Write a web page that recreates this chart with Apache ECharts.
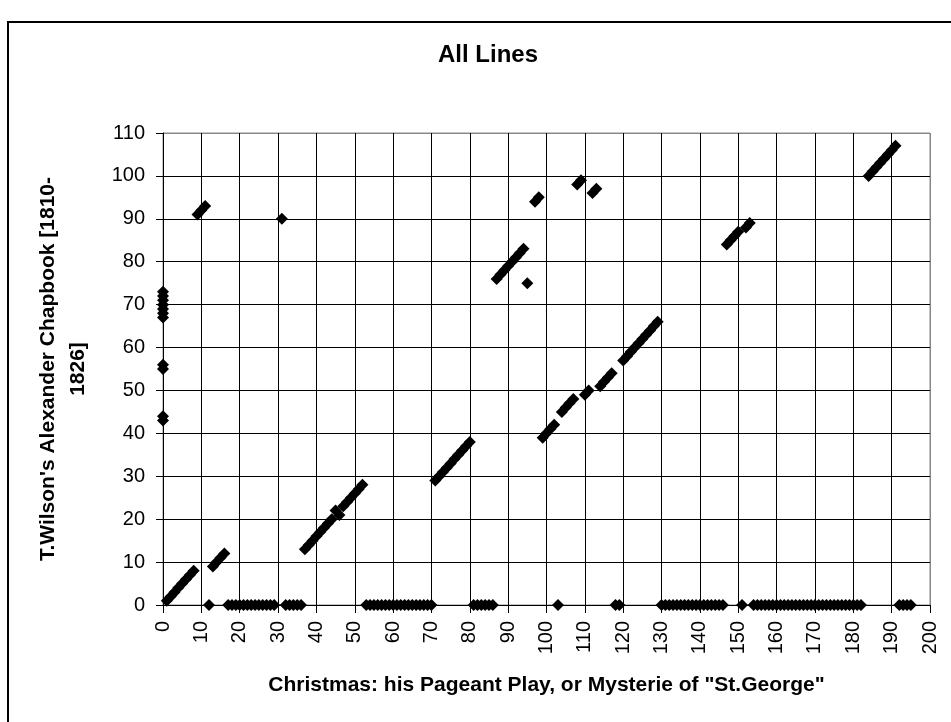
<!DOCTYPE html>
<html>
<head>
<meta charset="utf-8">
<script src="https://cdn.jsdelivr.net/npm/echarts@6/dist/echarts.min.js"></script>
<style>
  html, body { margin: 0; padding: 0; background: #fff; }
  #chart { width: 951px; height: 722px; }
</style>
</head>
<body>
<div id="chart"></div>
<script>
// line number in "Christmas" (x) and matching line in the Wilson chapbook (y)
var matchX = [0, 0, 0, 0, 0, 0, 0, 0, 0, 0, 0,
  1, 2, 3, 4, 5, 6, 7, 8, 9, 10, 11,
  13, 14, 15, 16, 31,
  37, 38, 39, 40, 41, 42, 43, 44, 45, 46, 47, 48, 49, 50, 51, 52,
  71, 72, 73, 74, 75, 76, 77, 78, 79, 80,
  87, 88, 89, 90, 91, 92, 93, 94, 95, 97, 98,
  99, 100, 101, 102, 104, 105, 106, 107, 108, 109, 110, 111, 112, 113,
  114, 115, 116, 117,
  120, 121, 122, 123, 124, 125, 126, 127, 128, 129,
  147, 148, 149, 150, 152, 153,
  184, 185, 186, 187, 188, 189, 190, 191]
var matchY = [73, 72, 71, 70, 69, 68, 67, 56, 55, 44, 43,
  1, 2, 3, 4, 5, 6, 7, 8, 91, 92, 93,
  9, 10, 11, 12, 90,
  13, 14, 15, 16, 17, 18, 19, 20, 22, 21, 23, 24, 25, 26, 27, 28,
  29, 30, 31, 32, 33, 34, 35, 36, 37, 38,
  76, 77, 78, 79, 80, 81, 82, 83, 75, 94, 95,
  39, 40, 41, 42, 45, 46, 47, 48, 98, 99, 49, 50, 96, 97,
  51, 52, 53, 54,
  57, 58, 59, 60, 61, 62, 63, 64, 65, 66,
  84, 85, 86, 87, 88, 89,
  100, 101, 102, 103, 104, 105, 106, 107]
// lines with no match (plotted at 0)
var unmatchedX = [12,
  17, 18, 19, 20, 21, 22, 23, 24, 25, 26, 27, 28, 29,
  32, 33, 34, 35, 36,
  53, 54, 55, 56, 57, 58, 59, 60, 61, 62, 63, 64, 65, 66, 67, 68, 69, 70,
  81, 82, 83, 84, 85, 86,
  103, 118, 119,
  130, 131, 132, 133, 134, 135, 136, 137, 138, 139, 140, 141, 142, 143, 144, 145, 146,
  151,
  154, 155, 156, 157, 158, 159, 160, 161, 162, 163, 164, 165, 166, 167, 168, 169, 170,
  171, 172, 173, 174, 175, 176, 177, 178, 179, 180, 181, 182,
  192, 193, 194, 195]

var points = []
for (var i = 0; i < matchX.length; i++) {
  points.push([matchX[i], matchY[i]])
}
for (var j = 0; j < unmatchedX.length; j++) {
  points.push([unmatchedX[j], 0])
}

var font = 'Liberation Sans, Arial, sans-serif'
var xSplit = []
for (var k = 0; k < 21; k++) xSplit.push(k === 20 ? '#888' : '#000')
var ySplit = []
for (var m = 0; m < 12; m++) ySplit.push(m === 11 ? '#888' : '#000')

var chart = echarts.init(document.getElementById('chart'))
var option = {
  animation: false,
  backgroundColor: '#fff',
  title: {
    text: 'All Lines',
    left: 433,
    top: 38,
    textStyle: { fontFamily: font, fontSize: 24, fontWeight: 'bold', color: '#000' }
  },
  graphic: [{
    type: 'rect',
    shape: { x: 8, y: 22, width: 1000, height: 1000 },
    style: { fill: 'none', stroke: '#000', lineWidth: 2 }
  }],
  grid: {
    left: 163,
    right: 21,
    top: 133,
    bottom: 117,
    show: true,
    borderColor: '#888',
    borderWidth: 1
  },
  xAxis: {
    type: 'value',
    min: 0,
    max: 200,
    interval: 10,
    name: 'Christmas: his Pageant Play, or Mysterie of "St.George"',
    nameLocation: 'middle',
    nameGap: 70,
    nameTextStyle: { fontFamily: font, fontSize: 21, fontWeight: 'bold', color: '#000' },
    axisLine: { onZero: false, lineStyle: { color: '#000', width: 1 } },
    axisTick: { show: true, length: 8, lineStyle: { color: '#000' } },
    axisLabel: { rotate: 90, margin: 16, fontFamily: font, fontSize: 20, color: '#000' },
    splitLine: { show: true, lineStyle: { color: xSplit, width: 1 } }
  },
  yAxis: {
    type: 'value',
    min: 0,
    max: 110,
    interval: 10,
    name: "T.Wilson's Alexander Chapbook [1810-\n1826]",
    nameLocation: 'middle',
    nameRotate: 90,
    nameGap: 70,
    nameTextStyle: { fontFamily: font, fontSize: 21, fontWeight: 'bold', color: '#000', lineHeight: 30, align: 'center' },
    axisLine: { show: true, lineStyle: { color: '#000', width: 1 } },
    axisTick: { show: true, length: 7, lineStyle: { color: '#000' } },
    axisLabel: { margin: 18, fontFamily: font, fontSize: 20, color: '#000' },
    splitLine: { show: true, lineStyle: { color: ySplit, width: 1 } }
  },
  series: [{
    type: 'scatter',
    symbol: 'diamond',
    symbolSize: [12, 12],
    itemStyle: { color: '#000', opacity: 1 },
    data: points
  }]
}
chart.setOption(option)
</script>
</body>
</html>
